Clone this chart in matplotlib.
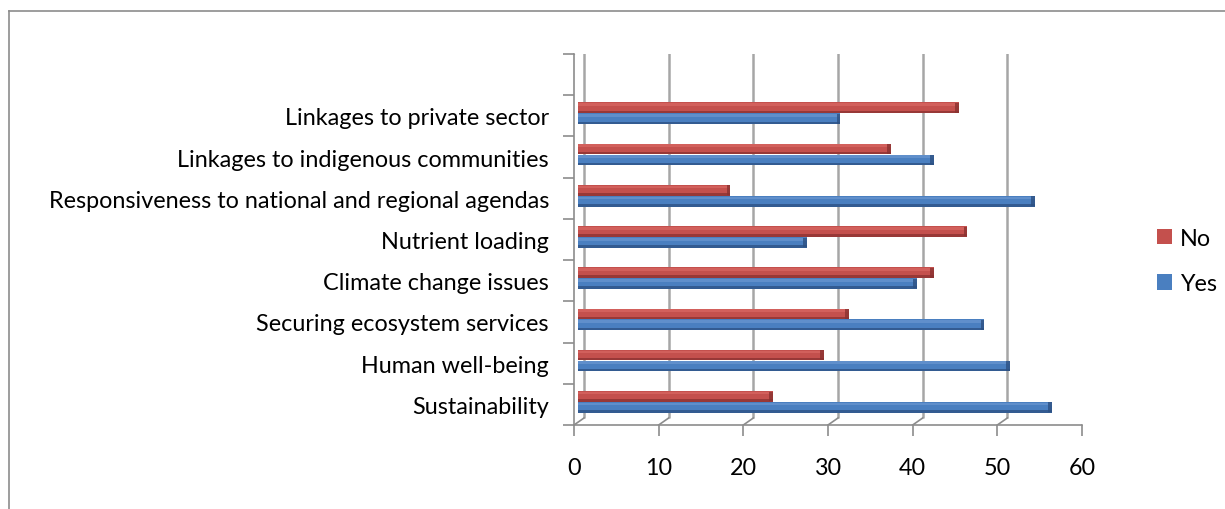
import matplotlib
matplotlib.use("Agg")
import matplotlib.pyplot as plt
import matplotlib.transforms as mtransforms
from matplotlib.patches import Patch
from matplotlib.lines import Line2D
import numpy as np

categories = ["Sustainability", "Human well-being", "Securing ecosystem services",
              "Climate change issues", "Nutrient loading",
              "Responsiveness to national and regional agendas",
              "Linkages to indigenous communities", "Linkages to private sector"]
yes_values = [56, 51, 48, 40, 27, 54, 42, 31]
no_values = [23, 29, 32, 42, 46, 18, 37, 45]
x_ticks = [0, 10, 20, 30, 40, 50, 60]

FONT = ["Lato", "DejaVu Sans"]
plt.rcParams["font.family"] = FONT
FS = 16.8

W, H = 1225, 510
fig = plt.figure(figsize=(W / 100, H / 100), dpi=100)
ax = fig.add_axes([574 / W, (H - 426) / H, 508 / W, 371 / H])
ax.set_xlim(0, 60)
ax.set_ylim(-0.5, 8.5)
for s in ax.spines.values():
    s.set_visible(False)

axis_col = "#8c8c8c"
grid_col = "#a6a6a6"

back = ax.transData + mtransforms.ScaledTranslation(10 / 100, 7 / 100, fig.dpi_scale_trans)
bar_tr = ax.transData + mtransforms.ScaledTranslation(4 / 100, 0, fig.dpi_scale_trans)

y0, y1 = -0.5, 8.5
for xv in x_ticks:
    ax.plot([xv, xv], [y0, y1], color=grid_col, lw=1.8, transform=back, zorder=1,
            solid_capstyle="butt")
for xv in x_ticks:
    p_front = ax.transData.transform((xv, y0))
    p_back = back.transform((xv, y0))
    ax.plot([p_front[0], p_back[0]], [p_front[1], p_back[1]], color=axis_col, lw=1.2,
            transform=None, zorder=1)
pf = ax.transData.transform((0, y1))
pb = back.transform((0, y1))
ax.plot([pf[0], pb[0]], [pf[1], pb[1]], color=axis_col, lw=1.2, transform=None, zorder=1)

ax.plot([0, 0], [y0, y1], color=axis_col, lw=1.2, zorder=2, clip_on=False)
ax.plot([0, 60], [y0, y0], color=axis_col, lw=1.2, zorder=2, clip_on=False)

y = np.arange(len(categories))
h = 0.26
red, red_lt, red_dk = "#c4504d", "#dc6b67", "#8a3130"
blue, blue_lt, blue_dk = "#4a7fc0", "#6f9bd4", "#2c5082"

def draw_bars(vals, yc, c, clt, cdk):
    vals = np.array(vals, dtype=float)
    ax.barh(yc, vals, height=h, color=c, transform=bar_tr, zorder=3, linewidth=0)
    ax.barh(yc + h * 0.3, vals, height=h * 0.25, color=clt, transform=bar_tr, zorder=4,
            linewidth=0, alpha=0.6)
    ax.barh(yc - h * 0.38, vals, height=h * 0.24, color=cdk, transform=bar_tr, zorder=4,
            linewidth=0, alpha=0.75)
    ax.barh(yc, np.full_like(vals, 0.45), left=vals - 0.45, height=h * 0.9, color=cdk,
            transform=bar_tr, zorder=5, linewidth=0, alpha=0.8)

draw_bars(no_values, y + 0.195, red, red_lt, red_dk)
draw_bars(yes_values, y - 0.07, blue, blue_lt, blue_dk)

ax.set_xticks(x_ticks)
ax.set_xticklabels([str(v) for v in x_ticks], fontsize=FS)
ax.tick_params(axis="x", length=8, width=1.2, color=axis_col, pad=15)
ax.set_yticks(y)
ax.set_yticklabels(categories, fontsize=FS)
ax.tick_params(axis="y", which="major", length=0, pad=18)
ax.set_yticks(np.arange(-0.5, 8.6, 1.0), minor=True)
ax.tick_params(axis="y", which="minor", length=8, width=1.2, color=axis_col)
ax.grid(False)

handles = [Patch(facecolor=red, edgecolor="none"), Patch(facecolor=blue, edgecolor="none")]
fig.legend(handles, ["No", "Yes"], loc="center left",
           bbox_to_anchor=(1136 / W, 1 - 262 / H), frameon=False, fontsize=FS,
           handlelength=0.65, handleheight=0.65, handletextpad=0.35, labelspacing=1.05)

fig.add_artist(Line2D([9 / W, 1.01], [1 - 12 / H, 1 - 12 / H], color=axis_col, lw=1.2,
                      transform=fig.transFigure))
fig.add_artist(Line2D([9 / W, 9 / W], [-0.01, 1 - 12 / H], color=axis_col, lw=1.2,
                      transform=fig.transFigure))

fig.savefig("out.png", dpi=100)
